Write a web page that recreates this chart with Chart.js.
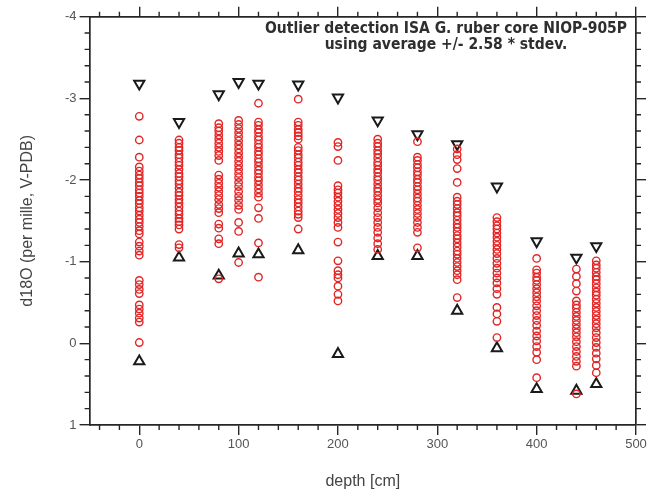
<!DOCTYPE html>
<html>
<head>
<meta charset="utf-8">
<script src="https://cdn.jsdelivr.net/npm/chart.js@4/dist/chart.umd.min.js"></script>
<style>
  html, body { margin: 0; padding: 0; background: #fff; }
  #wrap { width: 651px; height: 499px; }
</style>
</head>
<body>
<div id="wrap"><canvas id="c"></canvas></div>
<script>
// Sample depths (cm) in core NIOP-905P
const depths = [0, 40, 80, 100, 120, 160, 200, 240, 280, 320, 360, 400, 440, 460];

// Single-shell d18O measurements (per mille, V-PDB) per depth
const d0   = [-2.78, -2.49, -2.28, -2.16, -2.11, -2.06, -2.02, -1.97, -1.93, -1.88, -1.84, -1.80, -1.75, -1.71, -1.66, -1.62, -1.57, -1.52, -1.48, -1.43, -1.38, -1.34, -1.24, -1.19, -1.13, -1.08, -0.77, -0.72, -0.66, -0.61, -0.47, -0.42, -0.37, -0.31, -0.26, -0.01];
const d40  = [-2.49, -2.45, -2.40, -2.36, -2.31, -2.27, -2.22, -2.18, -2.13, -2.08, -2.04, -1.99, -1.95, -1.90, -1.85, -1.81, -1.76, -1.72, -1.67, -1.62, -1.58, -1.53, -1.49, -1.45, -1.40, -1.21, -1.17];
const d80  = [-2.69, -2.64, -2.60, -2.55, -2.50, -2.45, -2.40, -2.35, -2.30, -2.24, -2.06, -2.01, -1.96, -1.91, -1.86, -1.81, -1.76, -1.70, -1.65, -1.60, -1.46, -1.41, -1.28, -1.22, -0.79];
const d100 = [-2.73, -2.68, -2.63, -2.58, -2.53, -2.48, -2.43, -2.38, -2.33, -2.28, -2.23, -2.18, -2.13, -2.08, -2.03, -1.97, -1.92, -1.86, -1.80, -1.75, -1.69, -1.64, -1.48, -1.37, -0.99];
const d120 = [-2.94, -2.71, -2.67, -2.62, -2.58, -2.53, -2.49, -2.44, -2.40, -2.35, -2.31, -2.26, -2.22, -2.17, -2.12, -2.08, -2.03, -1.99, -1.94, -1.89, -1.84, -1.79, -1.66, -1.53, -1.23, -0.81];
const d160 = [-2.99, -2.71, -2.67, -2.62, -2.58, -2.54, -2.50, -2.40, -2.36, -2.31, -2.27, -2.22, -2.18, -2.13, -2.09, -2.04, -2.00, -1.95, -1.90, -1.86, -1.81, -1.76, -1.72, -1.67, -1.62, -1.58, -1.54, -1.40];
const d200 = [-2.46, -2.41, -2.24, -1.93, -1.88, -1.84, -1.79, -1.74, -1.69, -1.64, -1.59, -1.54, -1.48, -1.42, -1.24, -1.01, -0.89, -0.84, -0.80, -0.70, -0.60, -0.52];
const d240 = [-2.50, -2.45, -2.41, -2.36, -2.32, -2.27, -2.22, -2.18, -2.13, -2.09, -2.04, -2.00, -1.95, -1.90, -1.86, -1.81, -1.76, -1.72, -1.66, -1.60, -1.54, -1.48, -1.42, -1.36, -1.29, -1.22, -1.15];
const d280 = [-2.47, -2.28, -2.24, -2.19, -2.15, -2.10, -2.06, -2.01, -1.97, -1.92, -1.88, -1.83, -1.78, -1.74, -1.69, -1.64, -1.59, -1.54, -1.48, -1.42, -1.36, -1.17];
const d320 = [-2.38, -2.31, -2.25, -2.14, -1.97, -1.79, -1.74, -1.70, -1.65, -1.60, -1.56, -1.51, -1.46, -1.42, -1.37, -1.32, -1.28, -1.23, -1.18, -1.13, -1.09, -1.04, -0.99, -0.94, -0.89, -0.84, -0.78, -0.56];
const d360 = [-1.54, -1.49, -1.44, -1.40, -1.35, -1.30, -1.25, -1.20, -1.15, -1.10, -1.04, -0.98, -0.92, -0.86, -0.80, -0.74, -0.67, -0.60, -0.44, -0.36, -0.27, -0.07];
const d400 = [-1.04, -0.90, -0.86, -0.81, -0.77, -0.72, -0.67, -0.62, -0.57, -0.52, -0.46, -0.40, -0.34, -0.28, -0.22, -0.15, -0.09, -0.03, 0.04, 0.11, 0.20, 0.42];
const d440 = [-0.91, -0.82, -0.73, -0.64, -0.52, -0.47, -0.43, -0.38, -0.33, -0.28, -0.23, -0.18, -0.13, -0.08, -0.02, 0.04, 0.10, 0.16, 0.22, 0.28, 0.62];
const d460 = [-1.01, -0.96, -0.92, -0.87, -0.82, -0.78, -0.73, -0.68, -0.63, -0.59, -0.54, -0.49, -0.44, -0.39, -0.34, -0.29, -0.24, -0.19, -0.13, -0.07, -0.01, 0.05, 0.12, 0.19, 0.27, 0.36];

// Outlier limits: average +/- 2.58 * stdev at each depth
const upperLimit = [-3.18, -2.71, -3.05, -3.20, -3.18, -3.17, -3.01, -2.73, -2.56, -2.44, -1.92, -1.25, -1.05, -1.19];
const lowerLimit = [0.22, -1.05, -0.83, -1.10, -1.09, -1.14, 0.13, -1.07, -1.07, -0.40, 0.06, 0.56, 0.58, 0.50];

// Axis tick labels
const xTickValues = [0, 100, 200, 300, 400, 500];
const yTickValues = [-4, -3, -2, -1, 0, 1];

const titleLines = ['Outlier detection ISA G. ruber core NIOP-905P', 'using average +/- 2.58 * stdev.'];
const xTitle = 'depth [cm]';
const yTitle = 'd18O (per mille, V-PDB)';

const columns = [d0, d40, d80, d100, d120, d160, d200, d240, d280, d320, d360, d400, d440, d460];
const shellPoints = [];
columns.forEach((vals, i) => vals.forEach(v => shellPoints.push({ x: depths[i], y: v })));
const upperPoints = depths.map((d, i) => ({ x: d, y: upperLimit[i] }));
const lowerPoints = depths.map((d, i) => ({ x: d, y: lowerLimit[i] }));

const INK = '#262626';
const LABEL = '#555';

// Frame box geometry of the plot
const AREA = { left: 89.6, right: 636, top: 16.7, bottom: 425 };
const W = 651, H = 499;

const setTicks = vals => scale => { scale.ticks = vals.map(v => ({ value: v })); };
const gridOpts = { display: true, drawOnChartArea: false, drawTicks: true, tickLength: 10, color: INK, lineWidth: 1.4 };
const borderOpts = { display: true, color: INK, width: 1.7 };
const tickFont = { family: '"Liberation Sans", Arial, sans-serif', size: 13 };

// Minor ticks, axis titles and the heading
const decor = {
  id: 'decor',
  afterDraw(chart) {
    const ctx = chart.ctx;
    const a = chart.chartArea;
    const { x, x2, y, y2 } = chart.scales;
    ctx.save();
    ctx.strokeStyle = INK;
    ctx.lineWidth = 1.4;
    ctx.beginPath();
    for (let v = -40; v < 500; v += 20) {
      if (v % 100 === 0) continue;
      const px = x.getPixelForValue(v);
      ctx.moveTo(px, a.bottom); ctx.lineTo(px, a.bottom + 5);
      const px2 = x2.getPixelForValue(v);
      ctx.moveTo(px2, a.top); ctx.lineTo(px2, a.top - 5);
    }
    for (let k = -19; k < 5; k++) {
      if (k % 5 === 0) continue;
      const v = k / 5;
      const py = y.getPixelForValue(v);
      ctx.moveTo(a.left, py); ctx.lineTo(a.left - 5, py);
      const py2 = y2.getPixelForValue(v);
      ctx.moveTo(a.right, py2); ctx.lineTo(a.right + 5, py2);
    }
    ctx.stroke();

    // axis titles
    ctx.fillStyle = '#444';
    ctx.font = '16px "Liberation Sans", Arial, sans-serif';
    ctx.textAlign = 'center';
    ctx.textBaseline = 'middle';
    ctx.fillText(xTitle, (a.left + a.right) / 2, 482);
    ctx.save();
    ctx.translate(28, (a.top + a.bottom) / 2);
    ctx.rotate(-Math.PI / 2);
    ctx.fillText(yTitle, 0, 0);
    ctx.restore();

    // heading inside the frame
    ctx.fillStyle = '#2e2e2e';
    ctx.font = 'bold 15.5px "Liberation Sans Narrow", "DejaVu Sans Condensed", Arial, sans-serif';
    ctx.fillText(titleLines[0], 446, 29);
    ctx.fillText(titleLines[1], 446, 45);
    ctx.restore();
  }
};

new Chart(document.getElementById('c'), {
  type: 'scatter',
  data: {
    datasets: [
      {
        label: 'd18O',
        data: shellPoints,
        pointStyle: 'circle',
        pointRadius: 3.7,
        borderWidth: 1.4,
        borderColor: 'rgb(226,38,38)',
        backgroundColor: 'rgba(0,0,0,0)'
      },
      {
        label: 'average + 2.58 stdev',
        data: upperPoints,
        pointStyle: 'triangle',
        rotation: 180,
        pointRadius: 5.9,
        borderWidth: 2,
        borderColor: '#1a1a1a',
        backgroundColor: 'rgba(0,0,0,0)'
      },
      {
        label: 'average - 2.58 stdev',
        data: lowerPoints,
        pointStyle: 'triangle',
        rotation: 0,
        pointRadius: 5.9,
        borderWidth: 2,
        borderColor: '#1a1a1a',
        backgroundColor: 'rgba(0,0,0,0)'
      }
    ]
  },
  options: {
    responsive: true,
    maintainAspectRatio: false,
    animation: false,
    devicePixelRatio: 1,
    layout: { padding: 0 },
    plugins: { legend: { display: false }, tooltip: { enabled: false }, title: { display: false } },
    scales: {
      x: {
        type: 'linear', position: 'bottom', min: -50, max: 500,
        afterBuildTicks: setTicks(xTickValues),
        afterFit: s => { s.height = H - AREA.bottom; },
        grid: gridOpts, border: borderOpts,
        ticks: { color: LABEL, padding: 2, font: tickFont, maxRotation: 0, autoSkip: false }
      },
      x2: {
        type: 'linear', position: 'top', min: -50, max: 500,
        afterBuildTicks: setTicks(xTickValues),
        afterFit: s => { s.height = AREA.top; },
        grid: gridOpts, border: borderOpts,
        ticks: { display: false }
      },
      y: {
        type: 'linear', position: 'left', min: -4, max: 1, reverse: true,
        afterBuildTicks: setTicks(yTickValues),
        afterFit: s => { s.width = AREA.left; },
        grid: gridOpts, border: borderOpts,
        ticks: { color: LABEL, padding: 3, font: tickFont, autoSkip: false }
      },
      y2: {
        type: 'linear', position: 'right', min: -4, max: 1, reverse: true,
        afterBuildTicks: setTicks(yTickValues),
        afterFit: s => { s.width = W - AREA.right; },
        grid: gridOpts, border: borderOpts,
        ticks: { display: false }
      }
    }
  },
  plugins: [decor]
});
</script>
</body>
</html>
